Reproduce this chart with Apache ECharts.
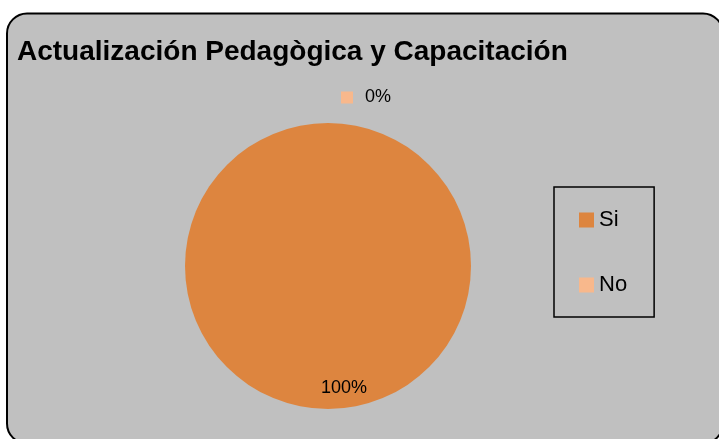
<!DOCTYPE html>
<html>
<head>
<meta charset="utf-8">
<script src="https://cdn.jsdelivr.net/npm/echarts@6/dist/echarts.min.js"></script>
<style>
  html, body { margin: 0; padding: 0; background: #fff; }
  #chart { width: 719px; height: 439px; }
</style>
</head>
<body>
<div id="chart"></div>
<script>
  // datos del gráfico
  const categories = ['Si', 'No']
  const values = [100, 0]
  const colors = ['#dd853f', '#f8b88c']
  const titleText = 'Actualización Pedagògica y Capacitación'

  const chart = echarts.init(document.getElementById('chart'))

  const option = {
    animation: false,
    backgroundColor: '#fff',
    graphic: [
      {
        // marco gris con esquinas redondeadas
        type: 'rect',
        z: -10,
        shape: { x: 7, y: 13.5, width: 716, height: 430, r: 20 },
        style: { fill: '#c0c0c0', stroke: '#000', lineWidth: 2 },
      },
    ],
    title: {
      text: titleText,
      left: 17,
      top: 38,
      padding: 0,
      textStyle: {
        fontFamily: 'Liberation Sans',
        fontWeight: 'bold',
        fontSize: 28,
        color: '#000',
      },
    },
    legend: {
      orient: 'vertical',
      left: 554,
      top: 187,
      padding: [22, 27, 21, 25],
      itemGap: 43,
      itemWidth: 15,
      itemHeight: 15,
      icon: 'rect',
      borderColor: '#000',
      borderWidth: 1.5,
      selectedMode: false,
      data: categories,
      textStyle: {
        fontFamily: 'Liberation Sans',
        fontSize: 22,
        lineHeight: 22,
        color: '#000',
      },
    },
    series: [
      {
        type: 'pie',
        center: [328, 266],
        radius: 143,
        startAngle: 90,
        clockwise: true,
        silent: true,
        avoidLabelOverlap: false,
        emphasis: { disabled: true },
        labelLine: { show: false },
        label: {
          show: true,
          position: 'inside',
          formatter: '{d}%',
          fontFamily: 'Liberation Sans',
          fontSize: 18,
          color: '#000',
        },
        labelLayout: function (p) {
          // desplazar etiquetas como en la hoja original
          return p.dataIndex === 0 ? { dx: 16, dy: 48 } : { dx: 38, dy: -94 }
        },
        data: categories.map((name, i) => {
          const item = { name: name, value: values[i], itemStyle: { color: colors[i] } }
          if (i === 1) {
            item.label = {
              formatter: '{sq|}{t|{d}%}',
              rich: {
                sq: { backgroundColor: colors[1], width: 12, height: 12 },
                t: { fontFamily: 'Liberation Sans', fontSize: 18, color: '#000', padding: [0, 0, 0, 12] },
              },
            }
          }
          return item
        }),
      },
    ],
  }

  chart.setOption(option)
</script>
</body>
</html>
